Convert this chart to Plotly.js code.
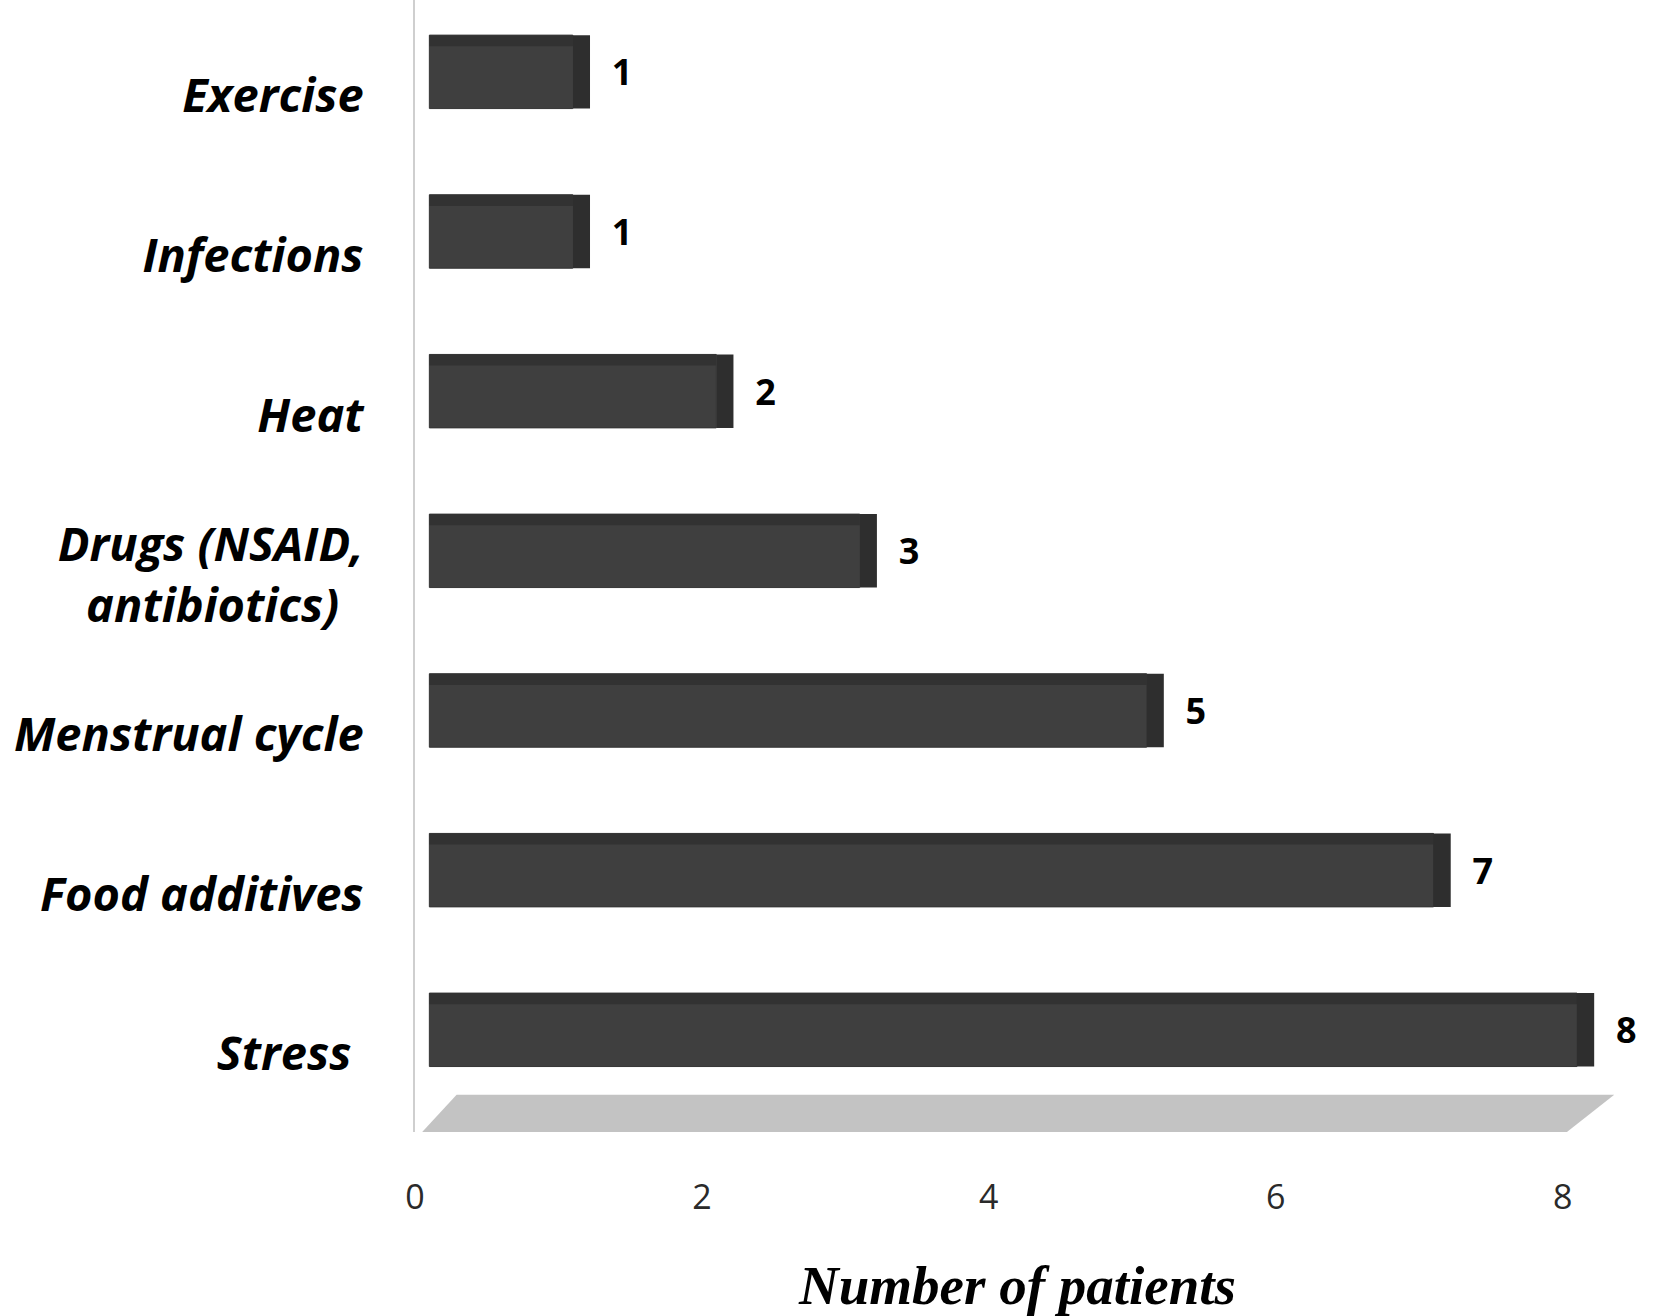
<!DOCTYPE html>
<html>
<head>
<meta charset="utf-8">
<script src="https://cdn.plot.ly/plotly-3.0.1.min.js"></script>
<style>html,body{margin:0;padding:0;background:#fff;}#chart{width:1667px;height:1316px;}</style>
</head>
<body>
<div id="chart"></div>
<script>
// Data (bottom to top)
const categories = ["Stress\u00a0", "Food additives", "Menstrual cycle", "Drugs (NSAID,<br>antibiotics)\u00a0\u00a0", "Heat", "Infections", "Exercise"];
const patients = [8, 7, 5, 3, 2, 1, 1];
const xTickVals = [0, 2, 4, 6, 8];
const xTickText = ["0", "2", "4", "6", "8"];

const depth = 0.1;   // visual 3D depth shift of the bars
const capLen = 0.12; // visual bevelled end-cap length

const bars = {
  type: "bar",
  orientation: "h",
  y: categories,
  x: patients,
  base: depth,
  width: 0.46,
  offset: -0.08,
  marker: { color: "#3f3f3f", line: { color: "#353535", width: 1 } },
  hoverinfo: "skip",
  showlegend: false
};

const topFace = {
  type: "bar",
  orientation: "h",
  y: categories,
  x: patients,
  base: depth,
  width: 0.07,
  offset: 0.31,
  marker: { color: "#323232", line: { width: 0 } },
  hoverinfo: "skip",
  showlegend: false
};

const caps = {
  type: "bar",
  orientation: "h",
  y: categories,
  x: patients.map(() => capLen),
  base: patients.map(v => v + depth),
  width: 0.46,
  offset: -0.08,
  marker: { color: "#2e2e2e", line: { width: 0 } },
  text: patients.map(String),
  texttemplate: "\u00a0\u00a0%{text}",
  textposition: "outside",
  cliponaxis: false,
  textfont: { family: "'Open Sans', Lato, sans-serif", size: 36, color: "#000", weight: 700 },
  hoverinfo: "skip",
  showlegend: false
};

const layout = {
  width: 1667,
  height: 1316,
  margin: { l: 415, r: 47, t: 0, b: 184 },
  paper_bgcolor: "#ffffff",
  plot_bgcolor: "#ffffff",
  barmode: "overlay",
  xaxis: {
    range: [0, 8.4],
    tickvals: xTickVals,
    ticktext: xTickText,
    showgrid: false,
    zeroline: false,
    showline: false,
    ticks: "",
    ticklabelstandoff: 42,
    tickfont: { family: "'Open Sans', Lato, sans-serif", size: 34, color: "#2a2a2a" },
    title: {
      text: "Number of patients",
      font: { family: "'Liberation Serif', 'DejaVu Serif', serif", size: 55, color: "#000", weight: 700, style: "italic" },
      standoff: 50
    },
    automargin: false
  },
  yaxis: {
    type: "category",
    categoryorder: "array",
    categoryarray: categories,
    range: [-0.49, 6.6],
    showgrid: false,
    zeroline: false,
    showline: true,
    linecolor: "#cfcfcf",
    linewidth: 2,
    ticks: "",
    ticklabelstandoff: 40,
    tickfont: { family: "'Open Sans', Lato, sans-serif", size: 47, color: "#000", weight: 700, style: "italic" },
    automargin: false
  },
  shapes: [
    {
      type: "path",
      xref: "x",
      yref: "paper",
      path: "M 0.05,0 L 8.03,0 L 8.36,0.033 L 0.29,0.033 Z",
      fillcolor: "#c3c3c3",
      line: { width: 0 },
      layer: "below"
    }
  ]
};

Plotly.newPlot("chart", [bars, topFace, caps], layout, { displayModeBar: false, staticPlot: true });
</script>
</body>
</html>
